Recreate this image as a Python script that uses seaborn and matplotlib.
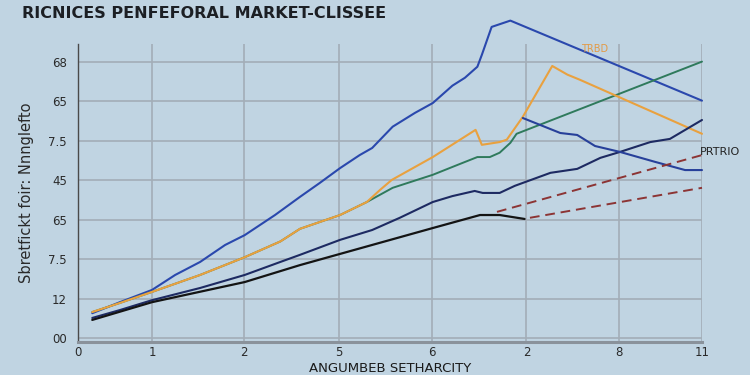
import numpy as np
import pandas as pd
import seaborn as sns
import matplotlib.pyplot as plt

# === Data ===
x_ticks = [0, 0.83, 1.86, 2.93, 3.97, 5.03, 6.07, 7.0]
x_labels = ["0", "1", "2", "5", "6", "2", "8", "11"]
y_ticks = [0, 1, 2, 3, 4, 5, 6, 7]
y_labels = ["00", "12", "7.5", "65", "45", "7.5", "65", "68"]

blue_x = [0.16, 0.47, 0.83, 1.09, 1.37, 1.65, 1.87, 2.21, 2.49, 2.71, 2.94, 3.16,
          3.30, 3.53, 3.78, 3.98, 4.20, 4.34, 4.48, 4.53, 4.64, 4.85, 7.00]
blue_y = [0.63, 0.91, 1.22, 1.60, 1.93, 2.36, 2.61, 3.12, 3.58, 3.93, 4.31, 4.64,
          4.82, 5.36, 5.71, 5.96, 6.40, 6.60, 6.88, 7.18, 7.89, 8.05, 6.02]

green_x = [0.16, 0.47, 0.83, 1.37, 1.87, 2.27, 2.49, 2.94, 3.24, 3.53, 3.98, 4.29,
           4.48, 4.62, 4.73, 4.85, 4.92, 7.00]
green_y = [0.66, 0.89, 1.17, 1.60, 2.05, 2.45, 2.77, 3.12, 3.45, 3.81, 4.14, 4.42,
           4.59, 4.59, 4.70, 4.95, 5.18, 7.01]

orange_x = [0.16, 0.47, 0.83, 1.37, 1.87, 2.27, 2.49, 2.94, 3.24, 3.39, 3.52, 3.98,
            4.46, 4.53, 4.73, 4.81, 4.99, 5.32, 5.49, 5.63, 7.00]
orange_y = [0.66, 0.89, 1.17, 1.60, 2.05, 2.45, 2.77, 3.12, 3.45, 3.76, 4.01, 4.59,
            5.28, 4.90, 4.97, 5.03, 5.61, 6.90, 6.68, 6.55, 5.18]

navy_x = [0.16, 0.47, 0.83, 1.37, 1.87, 2.27, 2.49, 2.94, 3.30, 3.61, 3.98, 4.20,
          4.45, 4.54, 4.73, 4.90, 5.30, 5.60, 5.86, 6.08, 6.42, 6.64, 7.00]
navy_y = [0.51, 0.71, 0.96, 1.27, 1.60, 1.93, 2.11, 2.49, 2.74, 3.05, 3.45, 3.60,
          3.73, 3.68, 3.68, 3.86, 4.19, 4.29, 4.57, 4.72, 4.97, 5.05, 5.53]

blue2_x = [4.99, 5.41, 5.60, 5.80, 6.08, 6.47, 6.81, 7.00]
blue2_y = [5.58, 5.20, 5.15, 4.87, 4.72, 4.47, 4.26, 4.26]

black_x = [0.16, 0.83, 1.87, 2.49, 3.98, 4.51, 4.73, 5.01]
black_y = [0.46, 0.91, 1.42, 1.85, 2.79, 3.12, 3.12, 3.02]

red_up_x = [4.70, 7.00]
red_up_y = [3.20, 4.64]
red_low_x = [5.07, 7.00]
red_low_y = [3.05, 3.81]

# === Style ===
bg = "#c0d4e2"
sns.set_style("whitegrid", {"axes.facecolor": bg, "figure.facecolor": bg,
                            "grid.color": "#a3adb7", "axes.edgecolor": "#555555"})
plt.rcParams['font.family'] = ['DejaVu Sans']

fig = plt.figure(figsize=(7.5, 3.75), dpi=100)
ax = fig.add_axes([0.104, 0.088, 0.832, 0.795])

series = [
    (blue_x, blue_y, "#2a48ad", "-", 1.5),
    (green_x, green_y, "#2f7a5c", "-", 1.4),
    (orange_x, orange_y, "#e9a13f", "-", 1.5),
    (navy_x, navy_y, "#1d2a62", "-", 1.5),
    (blue2_x, blue2_y, "#27409a", "-", 1.5),
    (black_x, black_y, "#141414", "-", 1.6),
    (red_up_x, red_up_y, "#8c3434", (0, (5, 3)), 1.4),
    (red_low_x, red_low_y, "#8c3434", (0, (5, 3)), 1.4),
]
for xs, ys, col, ls, lw in series:
    df = pd.DataFrame({"x": xs, "y": ys})
    sns.lineplot(data=df, x="x", y="y", ax=ax, color=col, lw=lw,
                 sort=False, estimator=None)
    ax.lines[-1].set_linestyle(ls)
    ax.lines[-1].set_clip_on(False)

ax.set_xlim(0, 7.0)
ax.set_ylim(-0.1, 7.46)
ax.set_xticks(x_ticks)
ax.set_xticklabels(x_labels)
ax.set_yticks(y_ticks)
ax.set_yticklabels(y_labels)
ax.tick_params(axis="both", length=0, labelsize=8.5, colors="#2a2a2a")
ax.tick_params(axis="y", pad=8)
ax.tick_params(axis="x", pad=3)
ax.grid(True, lw=1.2, color="#a3adb7")

for s in ["top", "right"]:
    ax.spines[s].set_visible(False)
ax.spines["left"].set_color("#4a4a4a")
ax.spines["left"].set_linewidth(1.0)
ax.spines["bottom"].set_color("#8a929b")
ax.spines["bottom"].set_linewidth(2.2)

ax.set_xlabel("ANGUMBEB SETHARCITY", fontsize=9.5, color="#1a1a1a",
              fontfamily="Liberation Sans Narrow", va="center")
ax.xaxis.set_label_coords(0.5, -0.09)
ax.set_ylabel("Sbretfickt foir: Nnnglefto", fontsize=10.5, color="#2a2a2a",
              labelpad=10)

ax.text(5.8, 7.32, "TRBD", fontsize=7, color="#e39a45", ha="center", va="center",
        clip_on=False)
ax.text(6.98, 4.72, "PRTRIO", fontsize=8, color="#222222", ha="left", va="center",
        clip_on=False)

fig.text(0.029, 0.965, "RICNICES PENFEFORAL MARKET-CLISSEE", fontsize=11.5,
         fontweight="bold", color="#1c1f24", ha="left", va="center")

plt.savefig("out.png", dpi=100, facecolor=bg)
plt.close()
